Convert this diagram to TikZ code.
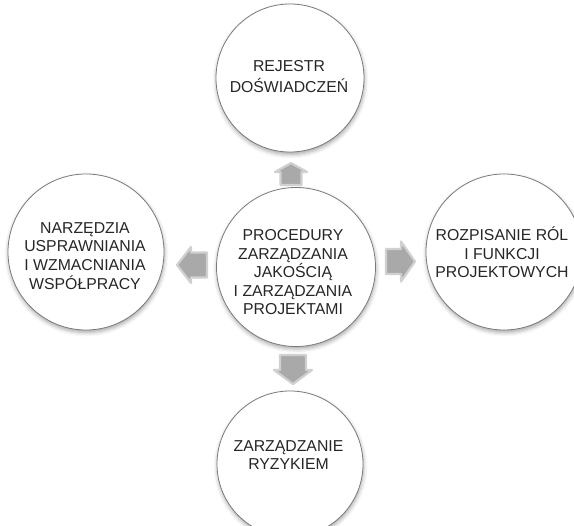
\documentclass[tikz,border=0pt]{standalone}
\usepackage{fontspec}
\setmainfont{Liberation Sans}
\usetikzlibrary{shadows.blur}
\definecolor{ringgray}{HTML}{7A7A7A}
\definecolor{arrowgray}{HTML}{A9A9A9}
\definecolor{txtgray}{HTML}{262626}
\begin{document}
\begin{tikzpicture}[x=1pt,y=-1pt,
  ring/.style={circle,draw=ringgray,line width=0.8pt,fill=white,inner sep=0pt,
    blur shadow={shadow xshift=0.5pt,shadow yshift=-2.5pt,shadow blur radius=4pt,shadow opacity=35}},
  txt/.style={align=center,text=txtgray,inner sep=0pt,
    font=\fontsize{15.8}{18.6}\selectfont},
  blockarrow/.style={fill=arrowgray,draw=arrowgray!55,line width=2.2pt,line join=round}
]
\useasboundingbox (0,0) rectangle (574,526);

% circles
\node[ring,minimum size=148pt] (top) at (290,78) {};
\node[ring,minimum size=159pt] (mid) at (296,267) {};
\node[ring,minimum size=156pt] (lft) at (86,252) {};
\node[ring,minimum size=156pt] (rgt) at (504,252) {};
\node[ring,minimum size=146pt] (bot) at (290,464) {};

% texts
\node[txt] (ttop) at (289,78.2) {\strut REJESTR\\DOŚWIADCZEŃ\strut};
\node[txt] (tmid) at (293,274) {\strut PROCEDURY\\ZARZĄDZANIA\\JAKOŚCIĄ\\I ZARZĄDZANIA\\PROJEKTAMI\strut};
\node[txt] (tlft) at (85,257.5) {\strut NARZĘDZIA\\USPRAWNIANIA\\I WZMACNIANIA\\WSPÓŁPRACY\strut};
\node[txt] (trgt) at (502,255) {\strut ROZPISANIE RÓL\\I FUNKCJI\\PROJEKTOWYCH\strut};
\node[txt] (tbot) at (288.5,456.6) {\strut ZARZĄDZANIE\\RYZYKIEM\strut};

% block arrows
\path[blockarrow] (291,163) -- (307,172) -- (301.5,172) -- (301.5,185) -- (280.5,185) -- (280.5,172) -- (275,172) -- cycle;
\path[blockarrow] (293,384) -- (312,370) -- (306,370) -- (306,355) -- (280,355) -- (280,370) -- (274,370) -- cycle;
\path[blockarrow] (415,261.5) -- (401,241.5) -- (401,249) -- (386,249) -- (386,274) -- (401,274) -- (401,281.5) -- cycle;
\path[blockarrow] (177,265) -- (191,247) -- (191,252.5) -- (207,252.5) -- (207,277.5) -- (191,277.5) -- (191,283) -- cycle;
\end{tikzpicture}
\end{document}
